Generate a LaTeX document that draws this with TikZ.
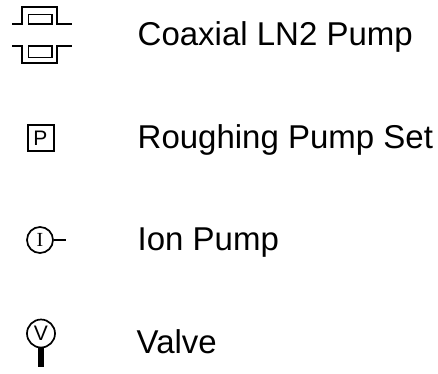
\documentclass[tikz,border=0pt]{standalone}
\usepackage{fontspec}
\setmainfont{Liberation Sans}
\newfontfamily\serifsym{Liberation Serif}
\tikzset{
  pumpline/.style={line width=1.9pt},
  symtext/.style={draw, inner sep=0pt, line width=1.7pt},
  legendtext/.style={anchor=base west, inner sep=0pt, font=\fontsize{33pt}{36pt}\selectfont},
}
\begin{document}
\begin{tikzpicture}[x=1pt,y=-1pt]
\useasboundingbox (0,0) rectangle (438,373);
% coaxial pump
\draw[pumpline] (12,24) -- (22,24) -- (22,7) -- (57,7) -- (57,24) -- (72,24);
\draw[pumpline] (28.5,14.5) rectangle (52,24);
\draw[pumpline] (12,46) -- (22,46) -- (22,63) -- (57,63) -- (57,46) -- (72,46);
\draw[pumpline] (28.5,46) rectangle (52,57.5);
\node[legendtext] (coaxial) at (137.5,45) {Coaxial LN2 Pump};
% roughing pump
\node[symtext, minimum size=26pt, line width=2pt, font=\fontsize{21pt}{22pt}\selectfont] (rough) at (40.5,138) {P};
\node[legendtext] (roughtext) at (137.5,148) {Roughing Pump Set};
% ion pump
\node[symtext, circle, minimum size=26pt, font=\fontsize{20pt}{21pt}\serifsym] (ion) at (40,240) {I};
\coordinate (ionend) at (66,240);
\draw[pumpline] (ion) -- (ionend);
\node[legendtext] (iontext) at (137.5,250) {Ion Pump};
% valve
\node[symtext, circle, minimum size=28pt, font=\fontsize{21pt}{22pt}\selectfont] (valve) at (41,333.5) {V};
\coordinate (valveend) at (41,367);
\draw[line width=5.5pt] (valve) -- (valveend);
\node[legendtext] (valvetext) at (136.5,353) {Valve};
\end{tikzpicture}
\end{document}
